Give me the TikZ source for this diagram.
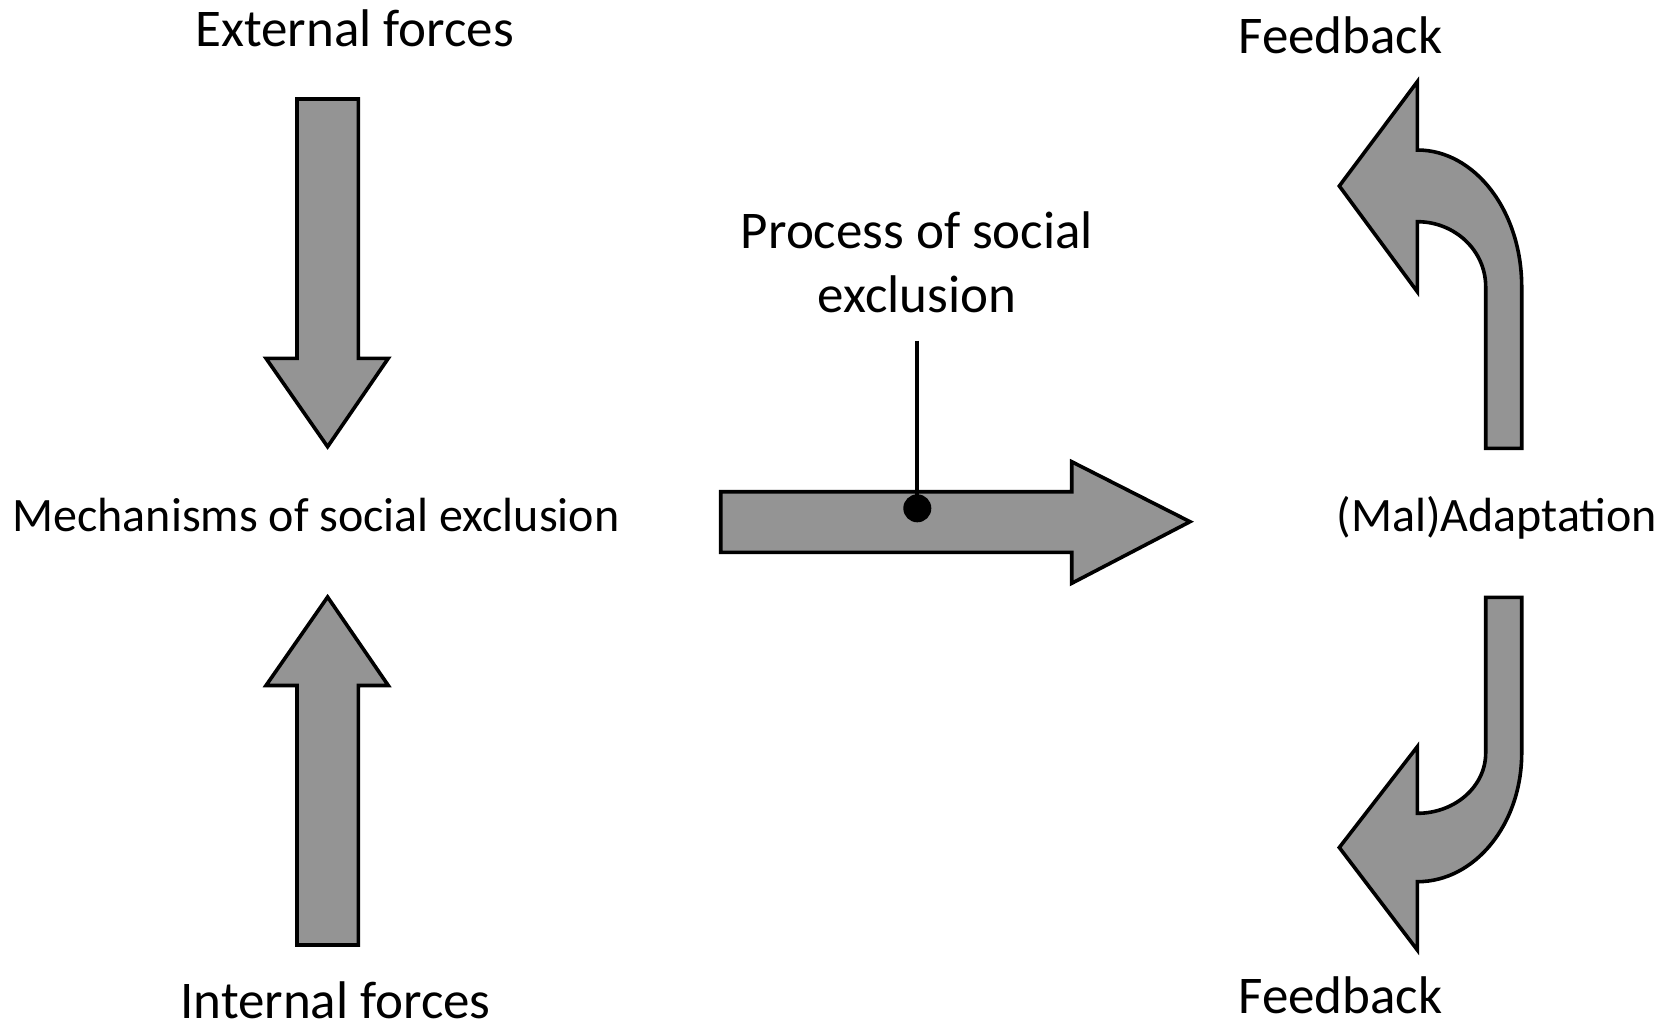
\documentclass[tikz,border=0pt]{standalone}
\usepackage{fontspec}
\setmainfont{Carlito}
\begin{document}
\begin{tikzpicture}[x=1pt,y=-1pt,
  blockarrow/.style={draw=black, line width=3.6pt, fill=arrowgray, line join=miter},
  label/.style={font=\fontsize{48}{56}\selectfont, inner sep=0pt, anchor=base},
  biglabel/.style={font=\fontsize{53}{64}\selectfont, inner sep=0pt, anchor=base},
  leader/.style={line width=4pt}]
\definecolor{arrowgray}{RGB}{148,148,148}
\path[use as bounding box] (0,0) rectangle (1668,1026);

% labels
\node[biglabel] (ext)   at (354.5,46.7)  {External forces};
\node[biglabel] (int)   at (335.5,1018)  {Internal forces};
\node[label]    (mech)  at (316,531)     {Mechanisms of social exclusion};
\node[label]    (adapt) at (1497,531)    {(Mal)Adaptation};
\node[biglabel] (fbtop) at (1340.5,53)   {Feedback};
\node[biglabel] (fbbot) at (1340.5,1013) {Feedback};
\node[biglabel, align=center] (proc) at (917,312) {Process of social\\exclusion};

% straight block arrows
\draw[blockarrow] (297,99) -- (358.3,99) -- (358.3,358.3) -- (388.3,358.3)
  -- (327.6,446.7) -- (266,358.3) -- (297,358.3) -- cycle;
\draw[blockarrow] (297,945) -- (358.3,945) -- (358.3,685.5) -- (388.3,685.5)
  -- (327.6,597) -- (266,685.5) -- (297,685.5) -- cycle;
\draw[blockarrow] (720.7,491.7) -- (1071.7,491.7) -- (1071.7,461.7) -- (1190,521.7)
  -- (1071.7,583.3) -- (1071.7,552.3) -- (720.7,552.3) -- cycle;

% curved feedback arrows
\draw[blockarrow] (1521.7,448.3) -- (1521.7,286.7)
  arc[start angle=0, end angle=-90, x radius=104.4, y radius=136.7]
  -- (1417.3,81.7) -- (1339.3,186) -- (1417.3,291.7) -- (1417.3,221.7)
  arc[start angle=-90, end angle=0, x radius=68.4, y radius=65]
  -- (1485.7,448.3) -- cycle;
\draw[blockarrow] (1485.7,597.3) -- (1521.7,597.3) -- (1521.7,753)
  arc[start angle=0, end angle=90, x radius=104.4, y radius=128.7]
  -- (1417.3,950) -- (1339.3,847.5) -- (1417.3,746.7) -- (1417.3,813.3)
  arc[start angle=90, end angle=0, x radius=68.4, y radius=60.3]
  -- cycle;

% leader from the process label to the arrow
\node[circle, fill=black, minimum size=28pt, inner sep=0pt] (dot) at (917.3,508.3) {};
\coordinate (leadtop) at (917.3,340.7);
\draw[leader] (leadtop) -- (dot.center);
\end{tikzpicture}
\end{document}
